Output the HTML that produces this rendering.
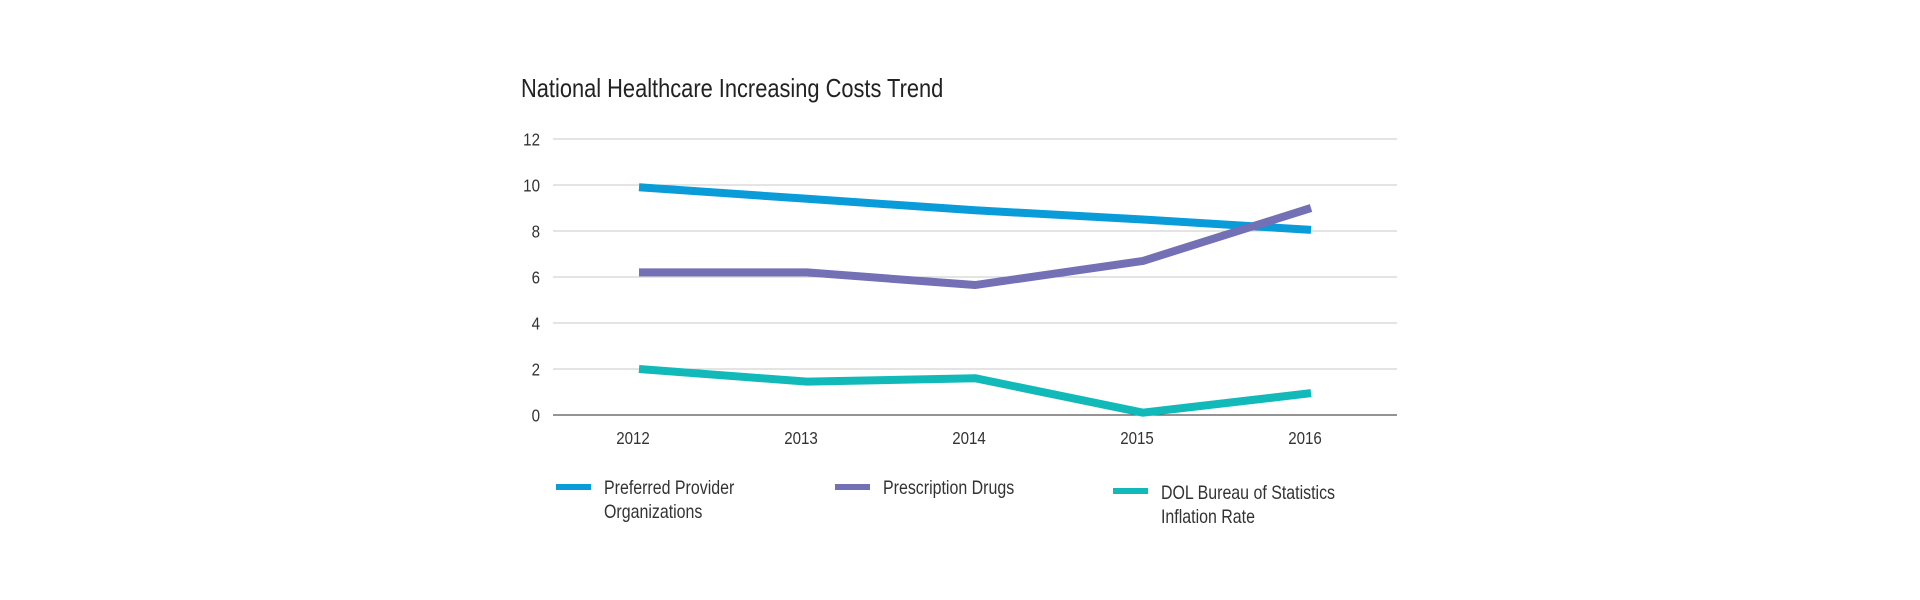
<!DOCTYPE html>
<html><head><meta charset="utf-8">
<style>
html,body{margin:0;padding:0;background:#fff;}
svg{display:block;}
text{font-family:"Liberation Sans",sans-serif;fill:#333;}
</style></head>
<body>
<svg id="chart" width="1920" height="600" viewBox="0 0 1920 600" xmlns="http://www.w3.org/2000/svg">
<g transform="translate(521,0) scale(0.84,1)"><text x="0" y="97" font-size="26" style="fill:#222">National Healthcare Increasing Costs Trend</text></g>
<g id="grid"></g><g id="yl"></g><g id="xl"></g><g id="lines"></g><g id="legend"></g>
</svg>
<script>
const categories=["2012","2013","2014","2015","2016"];
const yTicks=[0,2,4,6,8,10,12];
const ppoValues=[9.9,9.4,8.9,8.5,8.05];
const rxValues=[6.2,6.2,5.65,6.7,9.0];
const dolValues=[2.0,1.45,1.6,0.1,0.95];
const seriesNames=["Preferred Provider|Organizations","Prescription Drugs","DOL Bureau of Statistics|Inflation Rate"];

const NS="http://www.w3.org/2000/svg";
const x0=553,x1=1397,yTop=139,yBot=415;
function xs(i){return 639+i*(1311-639)/(categories.length-1);}
function ys(v){return yBot-(v/12)*(yBot-yTop);}
function mk(tag,attrs,parent){const e=document.createElementNS(NS,tag);for(const k in attrs)e.setAttribute(k,attrs[k]);parent.appendChild(e);return e;}
const grid=document.getElementById('grid'),yl=document.getElementById('yl'),xl=document.getElementById('xl'),lines=document.getElementById('lines'),legend=document.getElementById('legend');
yTicks.forEach(t=>{
  const l=mk('line',{x1:x0,x2:x1,y1:ys(t),y2:ys(t),stroke:t===0?'#555':'#c8c8c8','stroke-width':t===0?1.2:1},grid);
  
  
  const g=mk('g',{transform:`translate(540,${ys(t)+6.5}) scale(0.84,1)`},yl);
  const tx=mk('text',{x:0,y:0,'font-size':18,'text-anchor':'end'},g);
  tx.textContent=t;
  
  
});
categories.forEach((c,i)=>{
  const g=mk('g',{transform:`translate(${xs(i)-6},444) scale(0.84,1)`},xl);
  const tx=mk('text',{x:0,y:0,'font-size':18,'text-anchor':'middle'},g);
  tx.textContent=c;
  
  
});
const series=[{v:ppoValues,c:'#0a9bd9',n:'line-ppo'},{v:rxValues,c:'#7370b5',n:'line-prescription-drugs'},{v:dolValues,c:'#12b9b9',n:'line-dol-inflation'}];
series.forEach(s=>{
  const p=mk('polyline',{points:s.v.map((v,i)=>xs(i)+','+ys(v)).join(' '),fill:'none',stroke:s.c,'stroke-width':8,'stroke-linejoin':'round','stroke-linecap':'butt'},lines);
  
  
});
const lg=[{x:556,ly:487,ty:494},{x:835,ly:487,ty:494},{x:1113,ly:491,ty:499}];
lg.forEach((L,i)=>{
  const r=mk('rect',{x:L.x,y:L.ly-3,width:35,height:6,fill:series[i].c},legend);
  
  
  seriesNames[i].split('|').forEach((t,j)=>{
    const g=mk('g',{transform:`translate(${L.x+48},${L.ty+j*24}) scale(0.84,1)`},legend);
    const tx=mk('text',{x:0,y:0,'font-size':19},g);
    tx.textContent=t;
    
    
  });
});
</script>
</body></html>
